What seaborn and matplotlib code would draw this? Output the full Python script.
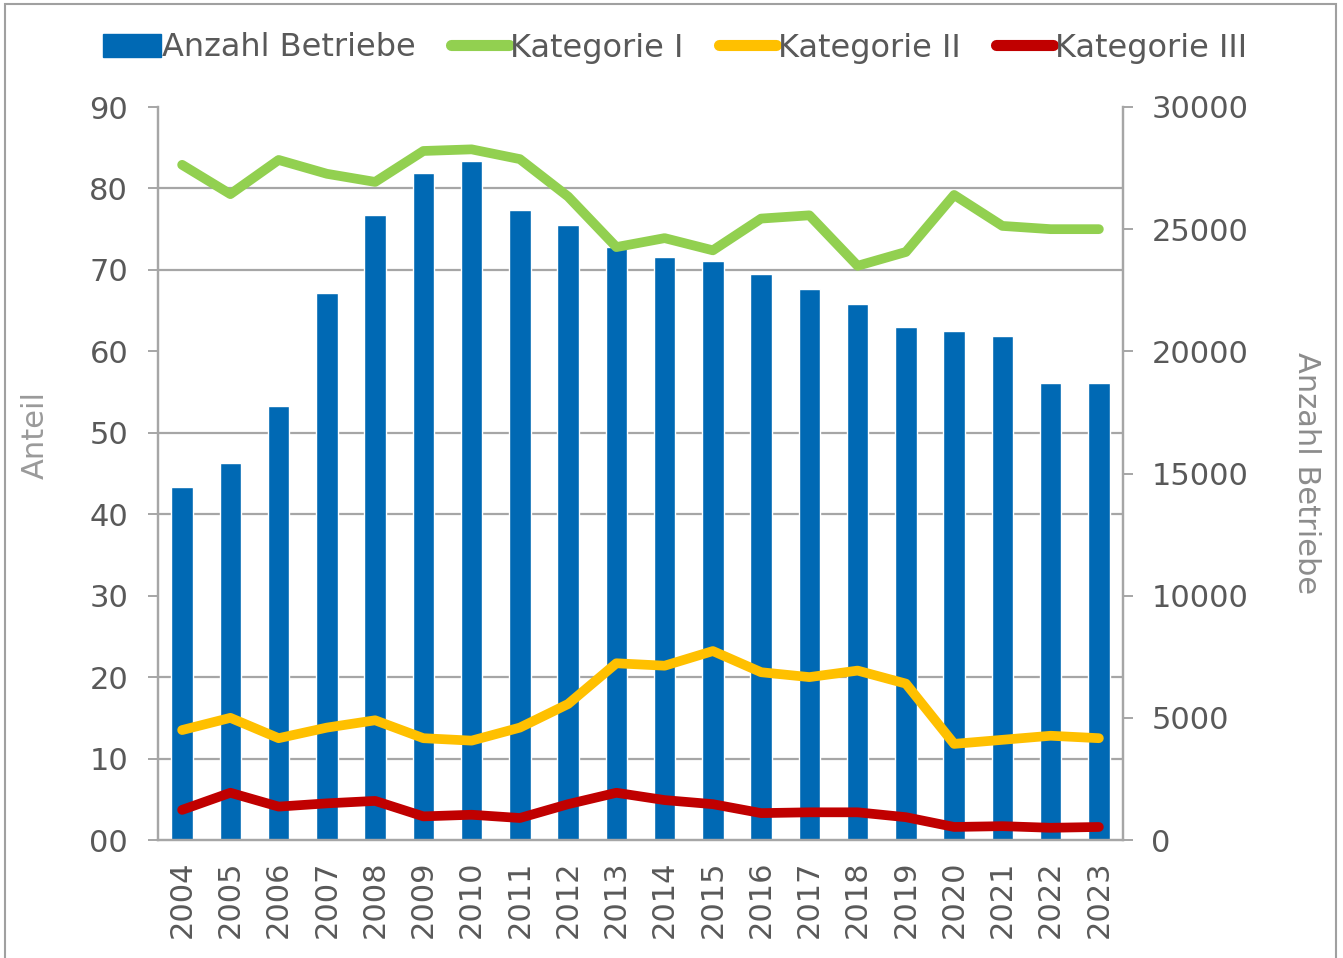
import numpy as np
import pandas as pd
import matplotlib
matplotlib.use("Agg")
import matplotlib.pyplot as plt
from matplotlib.patches import Rectangle, Patch
from matplotlib.lines import Line2D
import seaborn as sns

years = list(range(2004, 2024))
betriebe = [14450, 15430, 17760, 22390, 25580, 27300, 27790, 25790, 25170, 24270,
            23860, 23700, 23170, 22550, 21940, 21000, 20830, 20630, 18700, 18700]
kat1 = [82.9, 79.3, 83.5, 81.8, 80.8, 84.6, 84.8, 83.6, 79.0, 72.8,
        73.9, 72.4, 76.3, 76.7, 70.5, 72.2, 79.2, 75.4, 75.0, 75.0]
kat2 = [13.5, 15.0, 12.5, 13.8, 14.7, 12.5, 12.2, 13.8, 16.7, 21.7,
        21.4, 23.2, 20.6, 20.0, 20.8, 19.2, 11.8, 12.3, 12.8, 12.5]
kat3 = [3.7, 5.8, 4.1, 4.5, 4.8, 2.9, 3.1, 2.7, 4.4, 5.8,
        4.9, 4.4, 3.3, 3.4, 3.4, 2.8, 1.6, 1.7, 1.5, 1.6]
series_names = ["Kategorie I", "Kategorie II", "Kategorie III"]
series_colors = ["#92D050", "#FFC000", "#C00000"]
left_ticks = [0, 10, 20, 30, 40, 50, 60, 70, 80, 90]
left_labels = ["00", "10", "20", "30", "40", "50", "60", "70", "80", "90"]
right_ticks = [0, 5000, 10000, 15000, 20000, 25000, 30000]
LEFT_MAX = 90
RIGHT_MAX = 30000

sns.set_theme(style="white")
plt.rcParams['font.family'] = ['DejaVu Sans']

TXT = "#595959"
GRID = "#A6A6A6"
BAR = "#0069B4"
FS = 22

fig = plt.figure(figsize=(13.43, 9.58), dpi=100)
ax = fig.add_axes([158/1343, 1-840/958, (1123-158)/1343, (840-107)/958])

df_bar = pd.DataFrame({"year": years, "betriebe": betriebe})
sns.barplot(data=df_bar, x="year", y="betriebe", native_scale=True, color=BAR,
            saturation=1, width=0.45, ax=ax, zorder=2)

ax2 = ax.twinx()
df_lines = pd.DataFrame({
    "year": years * 3,
    "value": kat1 + kat2 + kat3,
    "series": [series_names[0]] * 20 + [series_names[1]] * 20 + [series_names[2]] * 20,
})
sns.lineplot(data=df_lines, x="year", y="value", hue="series", hue_order=series_names,
             palette=series_colors, linewidth=7, legend=False, ax=ax2,
             solid_capstyle="round", solid_joinstyle="round")

# axes configuration
ax.set_xlim(2003.5, 2023.5)
ax.set_ylim(0, RIGHT_MAX)
ax2.set_ylim(0, LEFT_MAX)

ax.yaxis.tick_right()
ax.yaxis.set_label_position("right")
ax2.yaxis.tick_left()
ax2.yaxis.set_label_position("left")

ax.set_yticks(right_ticks)
ax.set_yticklabels([str(t) for t in right_ticks], fontsize=FS, color=TXT)
# gridlines aligned with the left-axis ticks, drawn behind bars
ax.set_yticks([v * RIGHT_MAX / LEFT_MAX for v in left_ticks], minor=True)
ax.tick_params(axis="y", which="minor", length=0)
ax2.set_yticks(left_ticks)
ax2.set_yticklabels(left_labels, fontsize=FS, color=TXT)

ax.set_xticks(years)
ax.set_xticklabels([str(y) for y in years], rotation=90, fontsize=FS, color=TXT)
ax.set_xticks(np.arange(2003.5, 2024, 1), minor=True)
ax.tick_params(axis="x", which="major", length=0, pad=15)
ax.tick_params(axis="x", which="minor", length=7.5, width=1.4, color=GRID, direction="out")
ax.tick_params(axis="y", which="major", length=7.5, width=1.4, color=GRID, direction="out",
               right=True, left=False, pad=13)
ax2.tick_params(axis="y", which="major", length=7.5, width=1.4, color=GRID, direction="out",
                left=True, right=False, pad=14)

ax.grid(False)
ax.grid(axis="y", which="minor", color=GRID, linewidth=1.6)
ax.set_axisbelow(True)
ax2.grid(False)

for a in (ax, ax2):
    a.spines["top"].set_visible(False)
    for s in ("left", "right", "bottom"):
        a.spines[s].set_color(GRID)
        a.spines[s].set_linewidth(1.6)

ax.set_xlabel("")
ax.set_ylabel("Anzahl Betriebe", fontsize=FS, color="#8C8C8C", rotation=270)
ax.yaxis.label.set_verticalalignment("center")
ax.yaxis.set_label_coords((1307-158)/965, 0.5)
ax2.set_ylabel("Anteil", fontsize=FS, color="#9A9A9A")
ax2.yaxis.label.set_verticalalignment("center")
ax2.yaxis.set_label_coords((35-158)/965, (840-435)/733)

# legend
leg_handles = [Patch(facecolor=BAR, edgecolor=BAR)] + [
    Line2D([0], [0], color=c, linewidth=8, solid_capstyle="round") for c in series_colors]
leg = fig.legend(leg_handles, ["Anzahl Betriebe"] + series_names, loc="center",
                 bbox_to_anchor=(675/1343, 1-48/958), ncol=4, frameon=False,
                 handlelength=1.8, handleheight=0.7, handletextpad=0.05, columnspacing=1.1,
                 prop={"size": 23})
for t in leg.get_texts():
    t.set_color(TXT)

# outer frame
fig.patches.append(Rectangle((5/1343, -0.01), (1336-5)/1343, 1-4/958 + 0.01,
                             transform=fig.transFigure, fill=False,
                             edgecolor="#A0A0A0", linewidth=1.5))

fig.savefig("out.png", dpi=100)
